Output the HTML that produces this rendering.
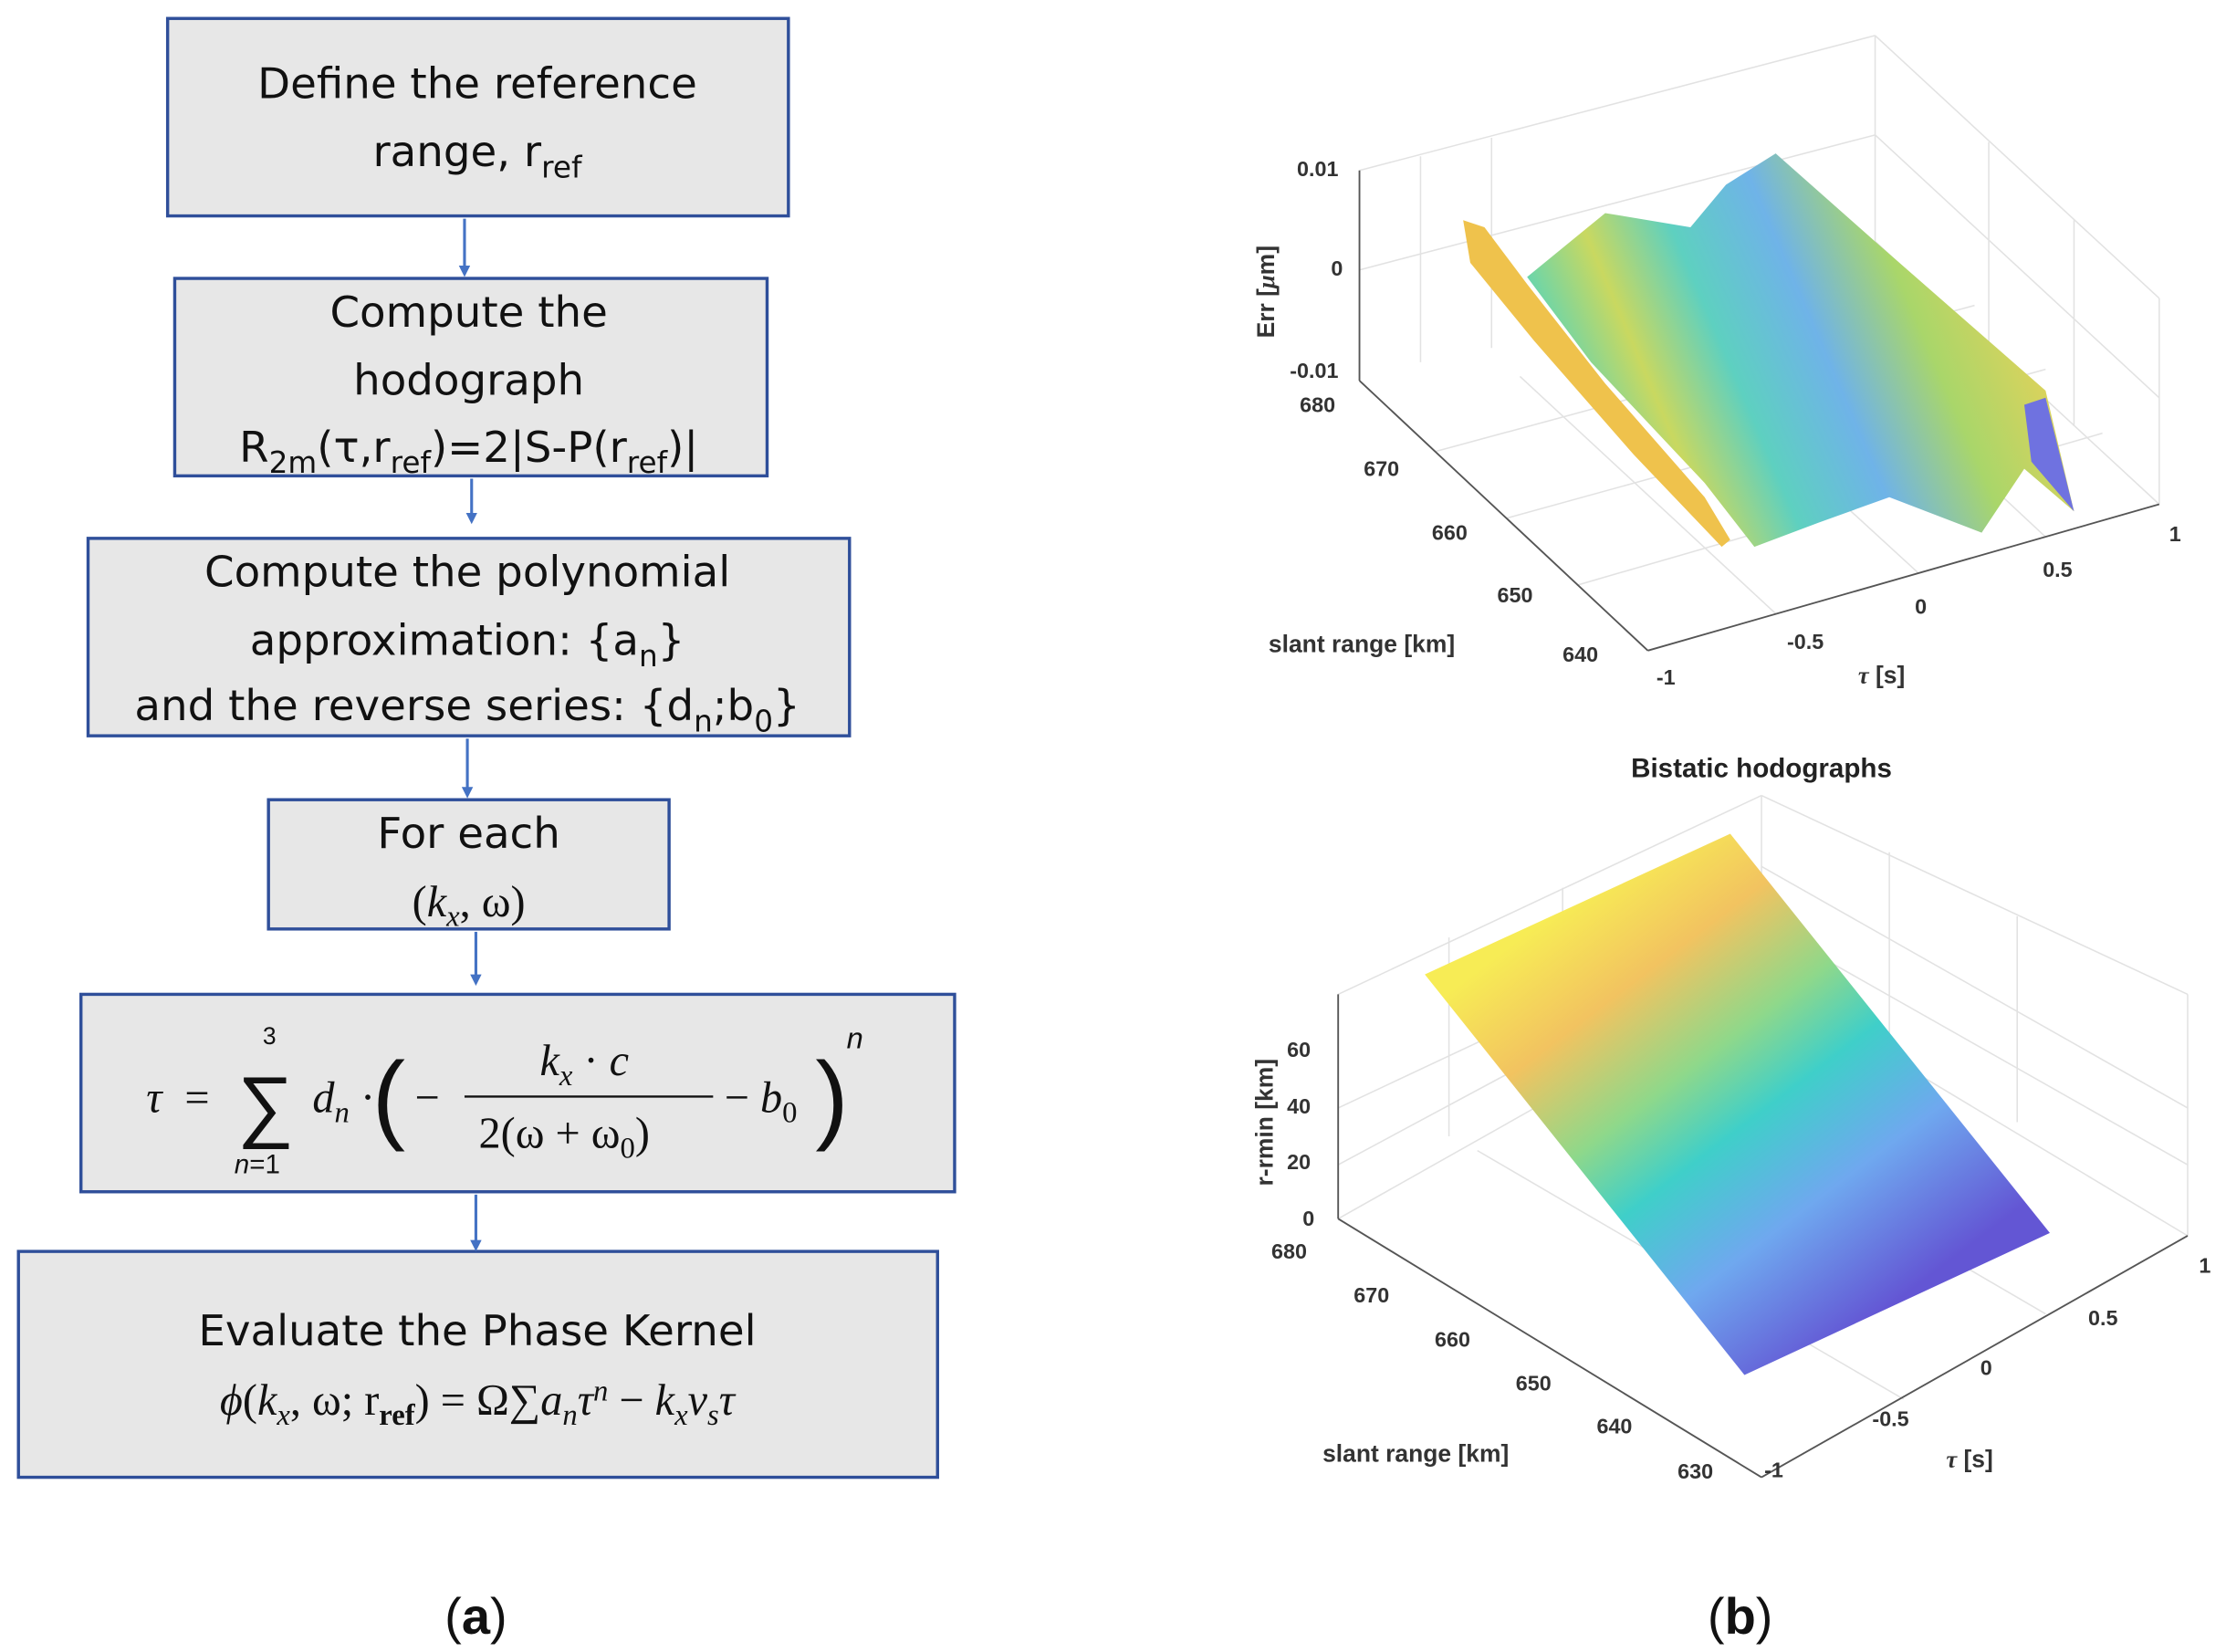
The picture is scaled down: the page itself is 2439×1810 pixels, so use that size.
<!DOCTYPE html>
<html><head><meta charset="utf-8"><style>
html,body{margin:0;padding:0;background:#fff;}
svg{display:block;}
text{font-family:"Liberation Sans",sans-serif;}
.fc{font-family:"DejaVu Sans","Liberation Sans",sans-serif;font-size:30px;fill:#111;}
.m{font-family:"Liberation Serif",serif;font-size:31px;fill:#111;}
.tk{font-size:15px;fill:#333;font-weight:bold;}
.ax{stroke:#555;stroke-width:1.2;fill:none;}
.gr{stroke:#e2e2e2;stroke-width:1;fill:none;}
</style></head><body>
<svg width="2439" height="1810" viewBox="0 0 1567 1163" preserveAspectRatio="none" xmlns="http://www.w3.org/2000/svg">
<defs>
<marker id="ar" markerWidth="8" markerHeight="8" refX="4" refY="4" orient="auto" markerUnits="userSpaceOnUse"><path d="M0,0 L8,4 L0,8 z" fill="#4472c4"/></marker>
<linearGradient id="g1" x1="1050" y1="300" x2="1400" y2="150" gradientUnits="userSpaceOnUse">
<stop offset="0" stop-color="#f2c84a"/><stop offset="0.12" stop-color="#47d4c7"/><stop offset="0.3" stop-color="#c9d860"/><stop offset="0.45" stop-color="#5ed0c0"/><stop offset="0.62" stop-color="#6fb3e8"/><stop offset="0.8" stop-color="#a9d66a"/><stop offset="1" stop-color="#e2d25a"/></linearGradient>
<linearGradient id="g2" x1="1110" y1="630" x2="1330" y2="920" gradientUnits="userSpaceOnUse">
<stop offset="0" stop-color="#f7ec55"/><stop offset="0.2" stop-color="#f2c360"/><stop offset="0.4" stop-color="#8fd88a"/><stop offset="0.55" stop-color="#3fcfc9"/><stop offset="0.75" stop-color="#6fa8ef"/><stop offset="1" stop-color="#6356d4"/></linearGradient>
</defs>
<rect width="1567" height="1163" fill="#fff"/>
<!-- flowchart -->
<g fill="#e7e7e7" stroke="#2f4f9a" stroke-width="2.2">
<rect x="118" y="13" width="437" height="139"/>
<rect x="123" y="196" width="417" height="139"/>
<rect x="62" y="379" width="536" height="139"/>
<rect x="189" y="563" width="282" height="91"/>
<rect x="57" y="700" width="615" height="139"/>
<rect x="13" y="881" width="647" height="159"/>
</g>
<g stroke="#4472c4" stroke-width="2" marker-end="url(#ar)">
<line x1="327" y1="154" x2="327" y2="191"/>
<line x1="332" y1="337" x2="332" y2="365"/>
<line x1="329" y1="520" x2="329" y2="558"/>
<line x1="335" y1="656" x2="335" y2="690"/>
<line x1="335" y1="841" x2="335" y2="877"/>
</g>
<text class="fc" x="336" y="69" text-anchor="middle">Define the reference</text>
<text class="fc" x="336" y="117" text-anchor="middle">range, r<tspan font-size="21" dy="8">ref</tspan></text>
<text class="fc" x="330" y="230" text-anchor="middle">Compute the</text>
<text class="fc" x="330" y="278" text-anchor="middle">hodograph</text>
<text class="fc" x="330" y="325" text-anchor="middle">R<tspan font-size="21" dy="8">2m</tspan><tspan dy="-8">(τ,r</tspan><tspan font-size="21" dy="8">ref</tspan><tspan dy="-8">)=2</tspan><tspan fill="#111">|</tspan>S-P(r<tspan font-size="21" dy="8">ref</tspan><tspan dy="-8">)|</tspan></text>
<text class="fc" x="329" y="413" text-anchor="middle">Compute the polynomial</text>
<text class="fc" x="329" y="461" text-anchor="middle">approximation: {a<tspan font-size="21" dy="8">n</tspan><tspan dy="-8">}</tspan></text>
<text class="fc" x="329" y="507" text-anchor="middle">and the reverse series: {d<tspan font-size="21" dy="8">n</tspan><tspan dy="-8">;b</tspan><tspan font-size="21" dy="8">0</tspan><tspan dy="-8">}</tspan></text>
<text class="fc" x="330" y="597" text-anchor="middle">For each</text>
<text class="m" x="330" y="645" text-anchor="middle">(<tspan font-style="italic">k</tspan><tspan font-size="21" dy="7" font-style="italic">x</tspan><tspan dy="-7">, ω)</tspan></text>
<!-- formula -->
<text class="m" x="103" y="783" font-style="italic">τ</text>
<text class="m" x="130" y="783">=</text>
<text x="167" y="797" font-family="Liberation Serif,serif" font-size="56" fill="#111">∑</text>
<text x="185" y="735" font-family="Liberation Serif,serif" font-size="17" fill="#111">3</text>
<text x="165" y="826" font-family="Liberation Serif,serif" font-size="19" font-style="italic" fill="#111">n<tspan font-style="normal">=1</tspan></text>
<text class="m" x="220" y="783" font-style="italic">d<tspan font-size="21" dy="7">n</tspan><tspan dy="-7" font-style="normal"> · </tspan></text>
<text x="262" y="796" font-family="Liberation Serif,serif" font-size="70" fill="#111">(</text>
<text class="m" x="292" y="783">−</text>
<text class="m" x="380" y="757" font-style="italic">k<tspan font-size="21" dy="7">x</tspan><tspan dy="-7" font-style="normal"> · </tspan>c</text>
<line x1="327" y1="772" x2="502" y2="772" stroke="#111" stroke-width="1.5"/>
<text class="m" x="337" y="808">2(ω + ω<tspan font-size="21" dy="7">0</tspan><tspan dy="-7">)</tspan></text>
<text class="m" x="510" y="783">− <tspan font-style="italic">b</tspan><tspan font-size="21" dy="7">0</tspan></text>
<text x="574" y="796" font-family="Liberation Serif,serif" font-size="70" fill="#111">)</text>
<text x="596" y="738" font-family="Liberation Serif,serif" font-size="21" font-style="italic" fill="#111">n</text>
<text class="fc" x="336" y="947" text-anchor="middle">Evaluate the Phase Kernel</text>
<text class="m" x="336" y="996" text-anchor="middle" font-size="32"><tspan font-style="italic">ϕ</tspan>(<tspan font-style="italic">k</tspan><tspan font-size="21" dy="7" font-style="italic">x</tspan><tspan dy="-7">, ω; r</tspan><tspan font-size="21" dy="7" font-weight="bold">ref</tspan><tspan dy="-7">) = Ω∑</tspan><tspan font-style="italic">a</tspan><tspan font-size="21" dy="7" font-style="italic">n</tspan><tspan dy="-7" font-style="italic">τ</tspan><tspan font-size="21" dy="-10" font-style="italic">n</tspan><tspan dy="10"> − </tspan><tspan font-style="italic">k</tspan><tspan font-size="21" dy="7" font-style="italic">x</tspan><tspan dy="-7" font-style="italic">v</tspan><tspan font-size="21" dy="7" font-style="italic">s</tspan><tspan dy="-7" font-style="italic">τ</tspan></text>
<text x="335" y="1150" text-anchor="middle" font-family="Liberation Serif,serif" font-size="36" fill="#111">(<tspan font-weight="bold">a</tspan>)</text>
<text x="1225" y="1150" text-anchor="middle" font-family="Liberation Serif,serif" font-size="36" fill="#111">(<tspan font-weight="bold">b</tspan>)</text>

<!-- plot 1 -->
<g class="gr">
<line x1="957" y1="120" x2="1320" y2="25"/><line x1="957" y1="190" x2="1320" y2="95"/>
<line x1="1320" y1="25" x2="1320" y2="170"/><line x1="1320" y1="25" x2="1520" y2="210"/>
<line x1="1320" y1="95" x2="1520" y2="280"/><line x1="1320" y1="170" x2="1520" y2="355"/>
<line x1="1520" y1="210" x2="1520" y2="355"/>
<line x1="1000" y1="110" x2="1000" y2="255"/><line x1="1050" y1="97" x2="1050" y2="245"/>
<line x1="1400" y1="100" x2="1400" y2="245"/><line x1="1460" y1="155" x2="1460" y2="300"/>
<line x1="1010" y1="318" x2="1390" y2="215"/><line x1="1060" y1="365" x2="1440" y2="260"/>
<line x1="1110" y1="412" x2="1480" y2="305"/>
<line x1="1250" y1="432" x2="1070" y2="265"/><line x1="1350" y1="403" x2="1170" y2="238"/>
<line x1="1440" y1="378" x2="1260" y2="210"/>
</g>
<polygon points="1030,155 1045,160 1075,200 1130,270 1200,350 1218,380 1212,385 1150,320 1080,240 1035,185" fill="#efc24c"/>
<polygon points="1075,195 1130,150 1190,160 1215,130 1250,108 1320,170 1440,275 1460,360 1425,330 1395,375 1330,350 1280,368 1235,385 1200,340 1120,255" fill="url(#g1)"/>
<polygon points="1425,285 1440,280 1460,360 1430,325" fill="#6f72e0"/>
<g class="ax">
<line x1="957" y1="120" x2="957" y2="268"/><line x1="957" y1="268" x2="1160" y2="458"/><line x1="1160" y1="458" x2="1520" y2="355"/>
</g>
<g class="tk">
<text x="913" y="124">0.01</text><text x="937" y="194">0</text><text x="908" y="266">-0.01</text>
<text x="915" y="290">680</text><text x="960" y="335">670</text><text x="1008" y="380">660</text><text x="1054" y="424">650</text><text x="1100" y="466">640</text>
<text x="1166" y="482">-1</text><text x="1258" y="457">-0.5</text><text x="1348" y="432">0</text><text x="1438" y="406">0.5</text><text x="1527" y="381">1</text>
<text x="893" y="459" font-size="17">slant range [km]</text>
<text x="1308" y="481" font-size="17"><tspan font-style="italic" font-family="Liberation Serif,serif">τ</tspan> [s]</text>
<text transform="translate(897,238) rotate(-90)" font-size="17">Err [<tspan font-style="italic" font-family="Liberation Serif,serif">μ</tspan>m]</text>
</g>

<!-- plot 2 -->
<text x="1240" y="547" text-anchor="middle" font-size="19" font-weight="bold" fill="#222">Bistatic hodographs</text>
<g class="gr">
<line x1="942" y1="858" x2="1240" y2="690"/><line x1="1240" y1="560" x2="1240" y2="690"/>
<line x1="1240" y1="690" x2="1540" y2="870"/><line x1="1540" y1="700" x2="1540" y2="870"/>
<line x1="1240" y1="560" x2="1540" y2="700"/>
<line x1="942" y1="700" x2="1240" y2="560"/>
<line x1="942" y1="780" x2="1240" y2="640"/><line x1="942" y1="820" x2="1240" y2="660"/>
<line x1="1240" y1="610" x2="1540" y2="780"/><line x1="1240" y1="650" x2="1540" y2="820"/>
<line x1="1020" y1="660" x2="1020" y2="800"/><line x1="1100" y1="625" x2="1100" y2="770"/>
<line x1="1330" y1="600" x2="1330" y2="740"/><line x1="1420" y1="645" x2="1420" y2="790"/>
<line x1="1340" y1="985" x2="1040" y2="810"/><line x1="1440" y1="925" x2="1140" y2="750"/>
</g>
<polygon points="1003,686 1218,587 1443,868 1228,968" fill="url(#g2)"/>
<g class="ax">
<line x1="942" y1="700" x2="942" y2="858"/><line x1="942" y1="858" x2="1240" y2="1040"/><line x1="1240" y1="1040" x2="1540" y2="870"/>
</g>
<g class="tk">
<text x="906" y="744">60</text><text x="906" y="784">40</text><text x="906" y="823">20</text><text x="917" y="863">0</text>
<text x="895" y="886">680</text><text x="953" y="917">670</text><text x="1010" y="948">660</text><text x="1067" y="979">650</text><text x="1124" y="1009">640</text><text x="1181" y="1041">630</text>
<text x="1242" y="1040">-1</text><text x="1318" y="1004">-0.5</text><text x="1394" y="968">0</text><text x="1470" y="933">0.5</text><text x="1548" y="896">1</text>
<text x="931" y="1029" font-size="17">slant range [km]</text>
<text x="1370" y="1033" font-size="17"><tspan font-style="italic" font-family="Liberation Serif,serif">τ</tspan> [s]</text>
<text transform="translate(896,835) rotate(-90)" font-size="17">r-rmin [km]</text>
</g>
</svg>
</body></html>
